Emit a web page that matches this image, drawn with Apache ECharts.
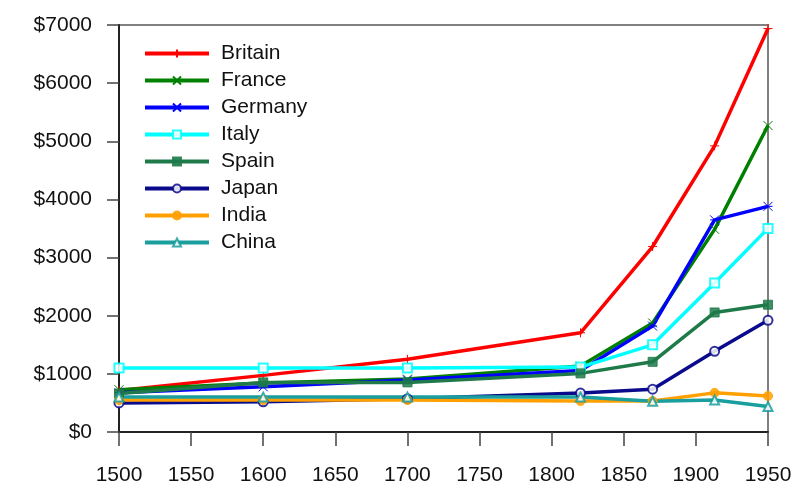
<!DOCTYPE html>
<html><head><meta charset="utf-8">
<script src="https://cdn.jsdelivr.net/npm/echarts@6/dist/echarts.min.js"></script>
<style>html,body{margin:0;padding:0;background:#fff}#c{width:800px;height:499px}</style>
</head><body><div id="c"></div>
<script>
const years = [1500, 1600, 1700, 1820, 1870, 1913, 1950];
const britain = [714, 974, 1250, 1706, 3190, 4921, 6939];
const france = [727, 841, 910, 1135, 1876, 3485, 5271];
const germany = [676, 777, 894, 1058, 1821, 3648, 3881];
const italy = [1100, 1100, 1100, 1117, 1499, 2564, 3502];
const spain = [661, 853, 853, 1008, 1207, 2056, 2189];
const japan = [500, 520, 570, 669, 737, 1387, 1921];
const india = [550, 550, 550, 533, 533, 673, 619];
const china = [600, 600, 600, 600, 530, 552, 439];
const xTicks = [1500, 1550, 1600, 1650, 1700, 1750, 1800, 1850, 1900, 1950];
const yTicks = [0, 1000, 2000, 3000, 4000, 5000, 6000, 7000];

const PLUS = 'path://M0,5L10,5M5,0L5,10';
const CROSS = 'path://M0,0L10,10M10,0L0,10';
const STAR = 'path://M0,0L10,10M10,0L0,10M0,5L10,5';

const defs = [
  ['Britain', britain, '#ff0000', PLUS, true],
  ['France', france, '#008000', CROSS, true],
  ['Germany', germany, '#0000ff', STAR, true],
  ['Italy', italy, '#00ffff', 'emptyRect', false],
  ['Spain', spain, '#1f7a4a', 'rect', false],
  ['Japan', japan, '#0a0a8c', 'emptyCircle', false],
  ['India', india, '#ffa000', 'circle', false],
  ['China', china, '#1a9e9e', 'emptyTriangle', false]
];

const series = defs.map(([name, vals, color, sym, stroked]) => ({
  name, type: 'line',
  data: years.map((y, i) => [y, vals[i]]),
  symbol: sym, symbolSize: 9, showAllSymbol: true,
  lineStyle: { color, width: 3.5 },
  itemStyle: stroked ? { color: 'none', borderColor: color, borderWidth: 1 } : { color: color, borderColor: color, borderWidth: 1, opacity: 0.85 },
  emphasis: { disabled: true },
  animation: false
}));

const chart = echarts.init(document.getElementById('c'));
chart.setOption({
  animation: false,
  grid: { left: 119, right: 32, top: 25, bottom: 67, show: true, borderColor: '#808080', borderWidth: 2, backgroundColor: 'transparent' },
  legend: {
    orient: 'vertical', left: 138, top: 38, itemWidth: 64, itemHeight: 10, itemGap: 6,
    lineStyle: { width: 4 },
    textStyle: { fontFamily: 'Liberation Sans', fontSize: 21, color: '#111', padding: [0, 0, 0, 7] },
    data: defs.map(d => d[0])
  },
  xAxis: {
    type: 'value', min: 1500, max: 1950, interval: 50,
    axisLine: { show: true, onZero: false, lineStyle: { color: '#222', width: 2 } },
    axisTick: { show: true, length: 14, lineStyle: { color: '#444', width: 1.5 } },
    axisLabel: { margin: 33, fontFamily: 'Liberation Sans', fontSize: 21, color: '#111', showMinLabel: true, showMaxLabel: true, formatter: v => String(v) },
    splitLine: { show: false }
  },
  yAxis: {
    type: 'value', min: 0, max: 7000, interval: 1000,
    axisLine: { show: true, lineStyle: { color: '#222', width: 2 } },
    axisTick: { show: true, length: 12, lineStyle: { color: '#444', width: 1.5 } },
    axisLabel: { margin: 27, fontFamily: 'Liberation Sans', fontSize: 21, color: '#111', formatter: v => '$' + v },
    splitLine: { show: false }
  },
  series
});
</script></body></html>
